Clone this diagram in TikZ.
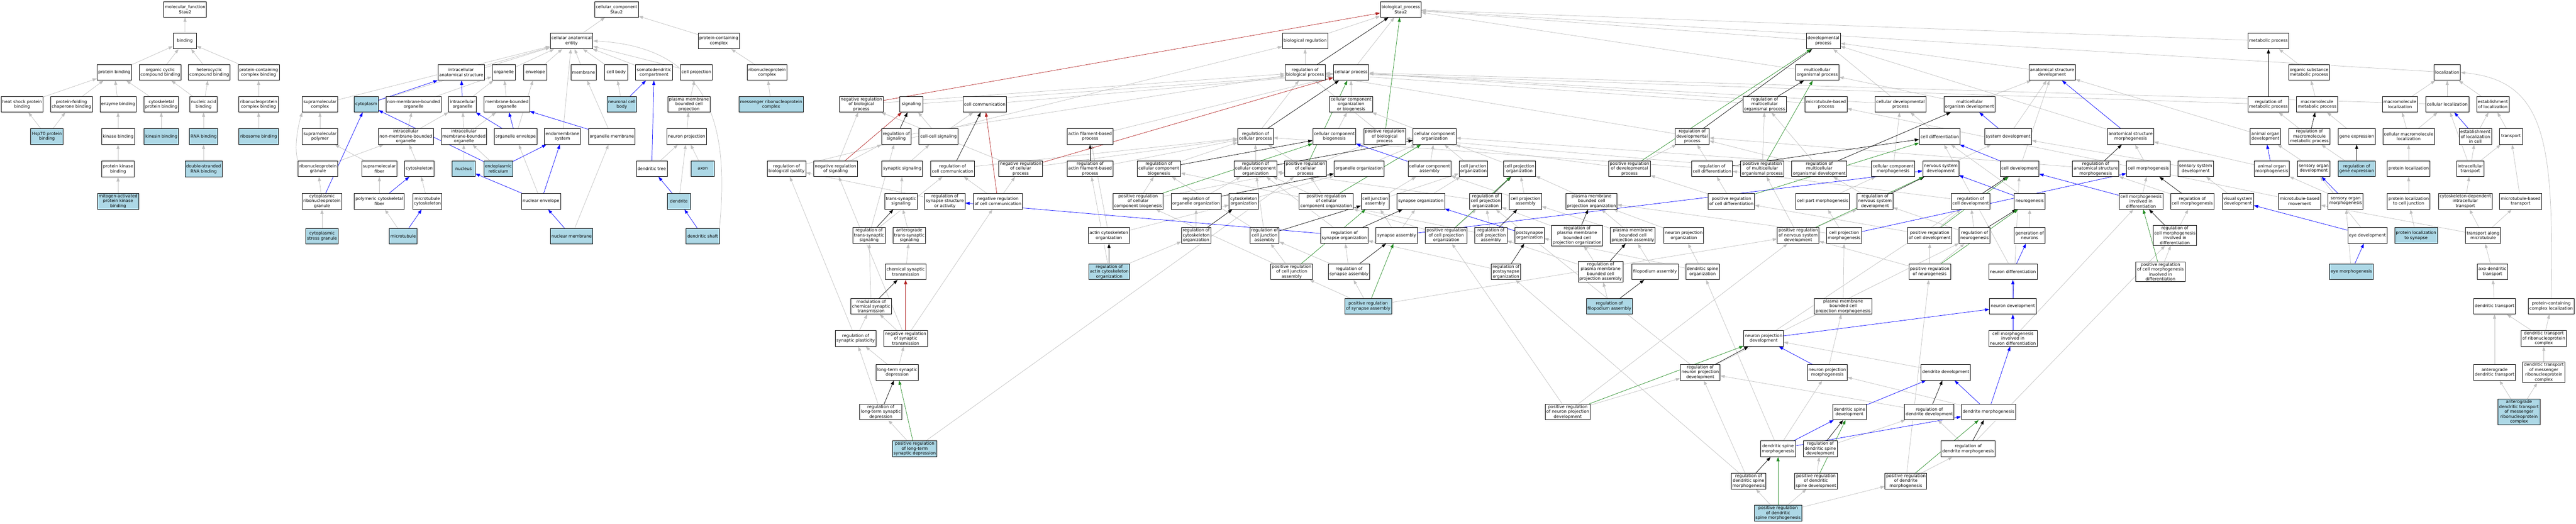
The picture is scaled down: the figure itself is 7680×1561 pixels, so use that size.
\documentclass[tikz,border=0pt]{standalone}
\usepackage{fontspec}
\setmainfont{DejaVu Sans}
\usetikzlibrary{arrows.meta}
\definecolor{lightblu}{HTML}{ADD8E6}
\definecolor{edgegray}{HTML}{C0C0C0}
\definecolor{fgreen}{HTML}{228B22}
\definecolor{fbrick}{HTML}{B22222}
\pgfdeclarelayer{back}
\pgfdeclarelayer{bg}
\pgfsetlayers{back,bg,main}
\tikzset{
  nd/.style={draw=black,line width=0.65pt,fill=white,align=center,
    font=\fontsize{6.3}{7.25}\selectfont,inner xsep=1.8pt,inner ysep=1.5pt,
    minimum width=35pt,minimum height=23.5pt},
  hl/.style={nd,fill=lightblu},
  edgebase/.style={line width=0.55pt,-{Triangle[length=6.5pt,width=4.6pt]}},
  isa/.style={edgebase,draw=edgegray},
  po/.style={edgebase,draw=blue},
  rg/.style={edgebase,draw=black},
  pr/.style={edgebase,draw=fgreen},
  nr/.style={edgebase,draw=fbrick}
}
\begin{document}
\begin{tikzpicture}[x=0.5pt,y=-0.5pt]
\begin{pgfonlayer}{back}
\fill[white] (0,0) rectangle (7680,1561);
\end{pgfonlayer}
\useasboundingbox (0,0) rectangle (7680,1561);
% ---------------- molecular function ----------------
\node[nd] (mf) at (552,28) {molecular\_function\\Stau2};
\node[nd] (bind) at (551,122) {binding};
\node[nd] (pbind) at (341,216) {protein binding};
\node[nd] (occb) at (478,216) {organic cyclic\\compound binding};
\node[nd] (hccb) at (624,216) {heterocyclic\\compound binding};
\node[nd] (pccb) at (771,216) {protein-containing\\complex binding};
\node[nd] (hspb) at (66,311) {heat shock protein\\binding};
\node[nd] (pfcb) at (213,311) {protein-folding\\chaperone binding};
\node[nd] (enzb) at (352,311) {enzyme binding};
\node[nd] (cypb) at (481,311) {cytoskeletal\\protein binding};
\node[nd] (nab) at (607,311) {nucleic acid\\binding};
\node[nd] (rnpcb) at (771,311) {ribonucleoprotein\\complex binding};
\node[hl] (hsp70) at (140,407) {Hsp70 protein\\binding};
\node[nd] (kinb) at (352,407) {kinase binding};
\node[hl] (kinesin) at (481,407) {kinesin binding};
\node[hl] (rnab) at (607,407) {RNA binding};
\node[hl] (ribb) at (771,407) {ribosome binding};
\node[nd] (pkb) at (352,504) {protein kinase\\binding};
\node[hl] (dsrna) at (607,504) {double-stranded\\RNA binding};
\node[hl] (mapk) at (352,600) {mitogen-activated\\protein kinase\\binding};
% ---------------- cellular component ----------------
\node[nd] (cc) at (1838,28) {cellular\_component\\Stau2};
\node[nd] (cae) at (1704,122) {cellular anatomical\\entity};
\node[nd] (pcc) at (2143,122) {protein-containing\\complex};
\node[nd] (ias) at (1375,216) {intracellular\\anatomical structure};
\node[nd] (org) at (1502,216) {organelle};
\node[nd] (env) at (1596,216) {envelope};
\node[nd] (mem) at (1740,216) {membrane};
\node[nd] (cbody) at (1837,216) {cell body};
\node[nd] (sdc) at (1950,216) {somatodendritic\\compartment};
\node[nd] (cproj) at (2076,216) {cell projection};
\node[nd] (rnpc) at (2287,216) {ribonucleoprotein\\complex};
\node[nd] (smc) at (954,311) {supramolecular\\complex};
\node[hl] (cyto) at (1092,311) {cytoplasm};
\node[nd] (nmbo) at (1233,311) {non-membrane-bounded\\organelle};
\node[nd] (io) at (1379,311) {intracellular\\organelle};
\node[nd] (mbo) at (1511,311) {membrane-bounded\\organelle};
\node[hl] (ncb) at (1854,311) {neuronal cell\\body};
\node[nd] (pmbcp) at (2054,311) {plasma membrane\\bounded cell\\projection};
\node[hl] (mrnp) at (2299,311) {messenger ribonucleoprotein\\complex};
\node[nd] (smp) at (954,407) {supramolecular\\polymer};
\node[nd] (inmbo) at (1210,407) {intracellular\\non-membrane-bounded\\organelle};
\node[nd] (imbo) at (1383,407) {intracellular\\membrane-bounded\\organelle};
\node[nd] (oenv) at (1537,407) {organelle envelope};
\node[nd] (endo) at (1677,407) {endomembrane\\system};
\node[nd] (omem) at (1824,407) {organelle membrane};
\node[nd] (nproj) at (2047,407) {neuron projection};
\node[nd] (rnpg) at (948,503) {ribonucleoprotein\\granule};
\node[nd] (smf) at (1131,503) {supramolecular\\fiber};
\node[nd] (cytsk) at (1250,503) {cytoskeleton};
\node[hl] (nucl) at (1382,503) {nucleus};
\node[hl] (er) at (1486,503) {endoplasmic\\reticulum};
\node[nd] (dtree) at (1943,503) {dendritic tree};
\node[hl] (axon) at (2095,503) {axon};
\node[nd] (crnpg) at (960,600) {cytoplasmic\\ribonucleoprotein\\granule};
\node[nd] (pcf) at (1131,600) {polymeric cytoskeletal\\fiber};
\node[nd] (mtcs) at (1274,600) {microtubule\\cytoskeleton};
\node[nd] (nenv) at (1613,600) {nuclear envelope};
\node[hl] (dend) at (2024,600) {dendrite};
\node[hl] (csg) at (960,704) {cytoplasmic\\stress granule};
\node[hl] (mt) at (1202,704) {microtubule};
\node[hl] (nmem) at (1704,704) {nuclear membrane};
\node[hl] (dshaft) at (2095,704) {dendritic shaft};
% ---------------- biological process ----------------
\node[nd] (bp) at (4176,28) {biological\_process\\Stau2};
\node[nd] (breg) at (3891,122) {biological regulation};
\node[nd] (devp) at (5436,122) {developmental\\process};
\node[nd] (metp) at (6763,122) {metabolic process};
\node[nd] (rbp) at (3891,216) {regulation of\\biological process};
\node[nd] (cellp) at (4028,216) {cellular process};
\node[nd] (mop) at (5418,216) {multicellular\\organismal process};
\node[nd] (asd) at (6118,216) {anatomical structure\\development};
\node[nd] (osmp) at (6884,216) {organic substance\\metabolic process};
\node[nd] (loc) at (7296,216) {localization};
% R3
\node[nd] (nrbp) at (2568,311) {negative regulation\\of biological\\process};
\node[nd] (sig) at (2717,311) {signaling};
\node[nd] (ccomm) at (2936,311) {cell communication};
\node[nd] (ccob) at (4028,311) {cellular component\\organization\\or biogenesis};
\node[nd] (rmop) at (5261,311) {regulation of\\multicellular\\organismal process};
\node[nd] (mtbp) at (5444,311) {microtubule-based\\process};
\node[nd] (cdp) at (5666,311) {cellular developmental\\process};
\node[nd] (mod) at (5872,311) {multicellular\\organism development};
\node[nd] (rmp) at (6763,311) {regulation of\\metabolic process};
\node[nd] (mmp) at (6908,311) {macromolecule\\metabolic process};
\node[nd] (mloc) at (7155,311) {macromolecule\\localization};
\node[nd] (cloc) at (7296,311) {cellular localization};
\node[nd] (eloc) at (7432,311) {establishment\\of localization};
% R4
\node[nd] (rsig) at (2672,407) {regulation of\\signaling};
\node[nd] (ccsig) at (2798,407) {cell-cell signaling};
\node[nd] (afbp) at (3250,407) {actin filament-based\\process};
\node[nd] (rcp) at (3743,407) {regulation of\\cellular process};
\node[nd] (ccb) at (3978,407) {cellular component\\biogenesis};
\node[nd] (prbp) at (4128,407) {positive regulation\\of biological\\process};
\node[nd] (cco) at (4277,407) {cellular component\\organization};
\node[nd] (rdp) at (5045,407) {regulation of\\developmental\\process};
\node[nd] (cdiff) at (5783,407) {cell differentiation};
\node[nd] (sysd) at (5987,407) {system development};
\node[nd] (asm) at (6352,407) {anatomical structure\\morphogenesis};
\node[nd] (aod) at (6754,407) {animal organ\\development};
\node[nd] (rmmp) at (6885,407) {regulation of\\macromolecule\\metabolic process};
\node[nd] (gexp) at (7026,407) {gene expression};
\node[nd] (cmloc) at (7181,407) {cellular macromolecule\\localization};
\node[nd] (elc) at (7380,407) {establishment\\of localization\\in cell};
\node[nd] (trans) at (7486,407) {transport};
% R5
\node[nd] (rbq) at (2345,503) {regulation of\\biological quality};
\node[nd] (nrsig) at (2491,503) {negative regulation\\of signaling};
\node[nd] (ssig) at (2690,503) {synaptic signaling};
\node[nd] (rcc) at (2840,503) {regulation of\\cell communication};
\node[nd] (nrcp) at (3043,503) {negative regulation\\of cellular\\process};
\node[nd] (rafbp) at (3250,503) {regulation of\\actin filament-based\\process};
\node[nd] (rccb) at (3455,503) {regulation of\\cellular component\\biogenesis};
\node[nd] (rcco) at (3743,503) {regulation of\\cellular component\\organization};
\node[nd] (prcp) at (3892,503) {positive regulation\\of cellular\\process};
\node[nd] (oo) at (4052,503) {organelle organization};
\node[nd] (cca) at (4262,503) {cellular component\\assembly};
\node[nd] (cjo) at (4393,503) {cell junction\\organization};
\node[nd] (cpo) at (4530,503) {cell projection\\organization};
\node[nd] (prdp) at (4858,503) {positive regulation\\of developmental\\process};
\node[nd] (rcd) at (5104,503) {regulation of\\cell differentiation};
\node[nd] (prmop) at (5254,503) {positive regulation\\of multicellular\\organismal process};
\node[nd] (rmod) at (5424,503) {regulation of\\multicellular\\organismal development};
\node[nd] (ccm) at (5644,503) {cellular component\\morphogenesis};
\node[nd] (nsd) at (5786,503) {nervous system\\development};
\node[nd] (cdev) at (6021,503) {cell development};
\node[nd] (rasm) at (6248,503) {regulation of\\anatomical structure\\morphogenesis};
\node[nd] (cmorph) at (6405,503) {cell morphogenesis};
\node[nd] (ssd) at (6546,503) {sensory system\\development};
\node[nd] (aom) at (6773,503) {animal organ\\morphogenesis};
\node[nd] (sod) at (6898,503) {sensory organ\\development};
\node[hl] (rge) at (7026,503) {regulation of\\gene expression};
\node[nd] (ploc) at (7181,503) {protein localization};
\node[nd] (itrans) at (7365,503) {intracellular\\transport};
% R6
\node[nd] (tsig) at (2686,600) {trans-synaptic\\signaling};
\node[nd] (rssa) at (2817,600) {regulation of\\synapse structure\\or activity};
\node[nd] (nrcc) at (2975,600) {negative regulation\\of cell communication};
\node[nd] (prccb) at (3393,600) {positive regulation\\of cellular\\component biogenesis};
\node[nd] (roo) at (3566,600) {regulation of\\organelle organization};
\node[nd] (cso) at (3708,600) {cytoskeleton\\organization};
\node[nd] (prcco) at (3954,600) {positive regulation\\of cellular\\component organization};
\node[nd] (cja) at (4100,600) {cell junction\\assembly};
\node[nd] (syno) at (4236,600) {synapse organization};
\node[nd] (rcpo) at (4429,600) {regulation of\\cell projection\\organization};
\node[nd] (cpa) at (4548,600) {cell projection\\assembly};
\node[nd] (pmbcpo) at (4745,600) {plasma membrane\\bounded cell\\projection organization};
\node[nd] (prcd) at (5162,600) {positive regulation\\of cell differentiation};
\node[nd] (cpm) at (5434,600) {cell part morphogenesis};
\node[nd] (rnsd) at (5590,600) {regulation of\\nervous system\\development};
\node[nd] (rcdev) at (5875,600) {regulation of\\cell development};
\node[nd] (neurog) at (6051,600) {neurogenesis};
\node[nd] (cmid) at (6383,600) {cell morphogenesis\\involved in\\differentiation};
\node[nd] (rcm) at (6536,600) {regulation of\\cell morphogenesis};
\node[nd] (vsd) at (6672,600) {visual system\\development};
\node[nd] (mtbm) at (6856,600) {microtubule-based\\movement};
\node[nd] (som) at (6993,600) {sensory organ\\morphogenesis};
\node[nd] (plcj) at (7181,600) {protein localization\\to cell junction};
\node[nd] (cdit) at (7350,600) {cytoskeleton-dependent\\intracellular\\transport};
\node[nd] (mtbt) at (7515,600) {microtubule-based\\transport};
% R7
\node[nd] (rtsig) at (2591,702) {regulation of\\trans-synaptic\\signaling};
\node[nd] (atsig) at (2711,702) {anterograde\\trans-synaptic\\signaling};
\node[nd] (aco) at (3306,702) {actin cytoskeleton\\organization};
\node[nd] (rcso) at (3566,702) {regulation of\\cytoskeleton\\organization};
\node[nd] (rcja) at (3770,702) {regulation of\\cell junction\\assembly};
\node[nd] (rso) at (4008,702) {regulation of\\synapse organization};
\node[nd] (sa) at (4164,702) {synapse assembly};
\node[nd] (prcpo) at (4312,702) {positive regulation\\of cell projection\\organization};
\node[nd] (rcpa) at (4445,702) {regulation of\\cell projection\\assembly};
\node[nd] (pso) at (4560,702) {postsynapse\\organization};
\node[nd] (rpmbcpo) at (4702,702) {regulation of\\plasma membrane\\bounded cell\\projection organization};
\node[nd] (pmbcpa) at (4868,702) {plasma membrane\\bounded cell\\projection assembly};
\node[nd] (npo) at (5020,702) {neuron projection\\organization};
\node[nd] (prnsd) at (5361,702) {positive regulation\\of nervous system\\development};
\node[nd] (cpmorph) at (5498,702) {cell projection\\morphogenesis};
\node[nd] (prcdev) at (5753,702) {positive regulation\\of cell development};
\node[nd] (rneurog) at (5887,702) {regulation of\\neurogenesis};
\node[nd] (gon) at (6051,702) {generation of\\neurons};
\node[nd] (rcmid) at (6484,702) {regulation of\\cell morphogenesis\\involved in\\differentiation};
\node[nd] (eyed) at (7058,702) {eye development};
\node[hl] (pls) at (7203,702) {protein localization\\to synapse};
\node[nd] (tam) at (7403,702) {transport along\\microtubule};
% R8
\node[nd] (cst) at (2700,810) {chemical synaptic\\transmission};
\node[hl] (raco) at (3307,810) {regulation of\\actin cytoskeleton\\organization};
\node[nd] (prcja) at (3851,810) {positive regulation\\of cell junction\\assembly};
\node[nd] (rsa) at (4022,810) {regulation of\\synapse assembly};
\node[nd] (rpso) at (4490,810) {regulation of\\postsynapse\\organization};
\node[nd] (rpmbcpa) at (4772,810) {regulation of\\plasma membrane\\bounded cell\\projection assembly};
\node[nd] (fa) at (4934,810) {filopodium assembly};
\node[nd] (dso) at (5076,810) {dendritic spine\\organization};
\node[nd] (prneurog) at (5753,810) {positive regulation\\of neurogenesis};
\node[nd] (ndiff) at (6001,810) {neuron differentiation};
\node[nd] (prcmid) at (6441,810) {positive regulation\\of cell morphogenesis\\involved in\\differentiation};
\node[hl] (eyem) at (7010,810) {eye morphogenesis};
\node[nd] (adt) at (7431,810) {axo-dendritic\\transport};
% R9
\node[nd] (mcst) at (2597,913) {modulation of\\chemical synaptic\\transmission};
\node[hl] (prsa) at (4079,913) {positive regulation\\of synapse assembly};
\node[hl] (rfa) at (4798,913) {regulation of\\filopodium assembly};
\node[nd] (pmbcpm) at (5495,913) {plasma membrane\\bounded cell\\projection morphogenesis};
\node[nd] (ndev) at (6001,913) {neuron development};
\node[nd] (dtr) at (7437,913) {dendritic transport};
\node[nd] (pccl) at (7606,913) {protein-containing\\complex localization};
% R10
\node[nd] (rsp) at (2551,1009) {regulation of\\synaptic plasticity};
\node[nd] (nrst) at (2700,1009) {negative regulation\\of synaptic\\transmission};
\node[nd] (npd) at (5258,1009) {neuron projection\\development};
\node[nd] (cmind) at (6001,1009) {cell morphogenesis\\involved in\\neuron differentiation};
\node[nd] (dtrnp) at (7584,1009) {dendritic transport\\of ribonucleoprotein\\complex};
% R11
\node[nd] (ltsd) at (2675,1110) {long-term synaptic\\depression};
\node[nd] (rnpd) at (5069,1110) {regulation of\\neuron projection\\development};
\node[nd] (npm) at (5448,1110) {neuron projection\\morphogenesis};
\node[nd] (ddev) at (5801,1110) {dendrite development};
\node[nd] (adtr) at (7437,1110) {anterograde\\dendritic transport};
\node[nd] (dtmrnp) at (7584,1110) {dendritic transport\\of messenger\\ribonucleoprotein\\complex};
% R12
\node[nd] (rltsd) at (2626,1228) {regulation of\\long-term synaptic\\depression};
\node[nd] (prnpd) at (4674,1228) {positive regulation\\of neuron projection\\development};
\node[nd] (dsd) at (5514,1228) {dendritic spine\\development};
\node[nd] (rdd) at (5752,1228) {regulation of\\dendrite development};
\node[nd] (dm) at (5928,1228) {dendrite morphogenesis};
\node[hl] (admrnp) at (7510,1228) {anterograde\\dendritic transport\\of messenger\\ribonucleoprotein\\complex};
% R13
\node[hl] (prltsd) at (2727,1338) {positive regulation\\of long-term\\synaptic depression};
\node[nd] (dsm) at (5301,1338) {dendritic spine\\morphogenesis};
\node[nd] (rdsd) at (5427,1338) {regulation of\\dendritic spine\\development};
\node[nd] (rdm) at (5868,1338) {regulation of\\dendrite morphogenesis};
% R14
\node[nd] (rdsm) at (5213,1434) {regulation of\\dendritic spine\\morphogenesis};
\node[nd] (prdsd) at (5414,1434) {positive regulation\\of dendritic\\spine development};
\node[nd] (prdm) at (5682,1434) {positive regulation\\of dendrite\\morphogenesis};
% R15
\node[hl] (prdsm) at (5301,1530) {positive regulation\\of dendritic\\spine morphogenesis};

\begin{pgfonlayer}{bg}
% is_a (grey)
\foreach \a/\b in {bind/mf,pbind/bind,occb/bind,hccb/bind,pccb/bind,hspb/pbind,pfcb/pbind,enzb/pbind,cypb/pbind,
  nab/occb,nab/hccb,rnpcb/pccb,hsp70/hspb,hsp70/pfcb,kinb/enzb,kinesin/cypb,rnab/nab,ribb/rnpcb,pkb/kinb,dsrna/rnab,mapk/pkb,
  cae/cc,pcc/cc,rnpc/pcc,mrnp/rnpc,ias/cae,org/cae,env/cae,mem/cae,cbody/cae,sdc/cae,cproj/cae,smc/cae,cyto/cae,
  nmbo/org,io/org,mbo/org,smp/smc,inmbo/nmbo,inmbo/io,imbo/io,imbo/mbo,rnpg/inmbo,smf/smp,cytsk/inmbo,
  crnpg/rnpg,pcf/smf,mtcs/cytsk,csg/crnpg,mt/pcf,oenv/env,omem/mem,endo/cae,nucl/imbo,er/imbo,nenv/oenv,nmem/omem,
  ncb/cbody,pmbcp/cproj,nproj/pmbcp,dtree/nproj,axon/nproj,dend/nproj,
  breg/bp,cellp/bp,devp/bp,mop/bp,metp/bp,loc/bp,sig/cellp,ccomm/cellp,rbq/breg,nrbp/rbp,rbp/breg,prbp/rbp,
  ccob/cellp,rcp/rbp,ccb/ccob,cco/ccob,rsig/rbp,ccsig/sig,ccsig/ccomm,afbp/cellp,nrsig/rsig,nrsig/nrbp,ssig/ccsig,
  rcc/rcp,nrcp/rcp,nrcp/nrbp,rafbp/rcp,rccb/rcp,tsig/ssig,rssa/rbq,nrcc/rcc,nrcc/nrcp,prccb/rccb,prccb/prcp,
  roo/rcco,rtsig/rsig,rtsig/rcc,atsig/tsig,aco/afbp,aco/cso,rcso/roo,cst/atsig,raco/rcso,raco/rafbp,mcst/rtsig,
  rsp/mcst,rsp/rbq,nrst/mcst,nrst/nrsig,nrst/nrcc,ltsd/rsp,ltsd/nrst,rltsd/rsp,prltsd/rltsd,prltsd/prcp,
  cca/cco,oo/cco,cjo/cco,cpo/cco,prdp/rdp,prdp/prbp,rcco/rcp,prcp/rcp,prcp/prbp,cso/oo,prcco/rcco,prcco/prcp,
  cja/cjo,cja/cca,syno/cjo,rcpo/rcco,cpa/cpo,cpa/cca,pmbcpo/cpo,rcja/rcco,rcja/rccb,rso/rcco,sa/syno,sa/cja,
  prcpo/rcpo,prcpo/prcco,rcpa/rcpo,rcpa/rccb,rpmbcpo/rcpo,pmbcpa/cpa,pmbcpa/pmbcpo,prcja/rcja,prcja/prccb,
  rsa/rso,rsa/rcja,rpso/rso,rpmbcpa/rcpa,rpmbcpa/rpmbcpo,fa/pmbcpa,prsa/prcja,prsa/rsa,prsa/prnsd,rfa/rpmbcpa,
  prnpd/rnpd,prnpd/prcpo,prnpd/prnsd,
  asd/devp,rmop/rbp,mtbp/cellp,cdp/devp,cdp/cellp,mod/asd,mod/mop,rdp/rbp,cdiff/cdp,sysd/asd,asm/devp,
  rcd/rdp,rcd/rcp,prmop/rmop,prmop/prbp,rmod/rmop,rmod/rdp,ccm/cdp,ccm/cco,nsd/sysd,cdev/asd,rasm/rdp,
  prcd/rcd,prcd/prdp,cpm/ccm,rnsd/rmod,rcdev/rcd,neurog/cdiff,npo/pmbcpo,prnsd/rnsd,prnsd/prmop,cpmorph/cpm,
  cpmorph/pmbcpo,prcdev/rcdev,prcdev/prcd,rneurog/rnsd,rneurog/rcdev,gon/neurog,dso/npo,dso/pso,
  prneurog/rneurog,prneurog/prnsd,prneurog/prcdev,ndiff/cdiff,pmbcpm/cpmorph,ndev/cdev,npd/cdev,cmind/cmid,
  rnpd/rcpo,rnpd/rneurog,npm/pmbcpm,ddev/npd,rdd/rnpd,dm/npm,dsm/npm,dsm/dso,rdsd/rdd,rdm/rdd,rdm/rcmid,
  rdsm/rnpd,rdsm/rpso,prdsd/rdsd,prdm/rdm,prdm/prneurog,prdsm/rdsm,prdsm/prdsd,prdsm/prdm,
  rmp/rbp,osmp/metp,mmp/osmp,mloc/loc,cloc/loc,eloc/loc,cloc/cellp,aod/asd,rmmp/rmp,gexp/mmp,cmloc/mloc,cmloc/cloc,
  elc/eloc,trans/eloc,cmorph/asm,ssd/sysd,aom/asm,sod/aod,rge/rmmp,ploc/cmloc,itrans/elc,itrans/trans,itrans/cloc,
  cmid/cmorph,rcm/rasm,vsd/ssd,mtbm/mtbp,som/aom,plcj/ploc,cdit/itrans,mtbt/trans,rcmid/rcm,eyed/sod,pls/plcj,
  tam/cdit,tam/mtbt,tam/mtbm,prcmid/rcmid,eyem/som,adt/tam,dtr/adt,dtrnp/dtr,dtrnp/pccl,adtr/dtr,
  dtmrnp/dtrnp,admrnp/adtr,admrnp/dtmrnp}
  \draw[isa] (\a) -- (\b);
% curved grey edges
\draw[isa] (pccl.north) .. controls (7614,420) and (7590,240) .. (loc.east);
\draw[isa] (dshaft.north east) .. controls (2175,380) and (2120,140) .. (cae.east);
\draw[isa] (rnpg.north west) .. controls (875,440) and (890,370) .. (smc.south west);
% part_of (blue)
\foreach \a/\b in {cyto/ias,io/ias,crnpg/cyto,pcf/cytsk,mt/mtcs,oenv/io,oenv/mbo,omem/mbo,er/endo,er/cyto,
  nenv/endo,nenv/nucl,nmem/nenv,ncb/sdc,dtree/sdc,dend/dtree,dshaft/dend,
  cca/ccb,rso/rssa,sa/nsd,pso/syno,sysd/mod,asm/asd,cdev/cdiff,neurog/nsd,cpmorph/cmorph,ndiff/gon,ndev/ndiff,
  npd/ndev,cmind/ndev,npm/npd,dsd/ddev,dm/ddev,dm/cmind,dsm/dsd,dsm/dm,elc/cloc,aom/aod,som/sod,cmid/cdev,
  eyed/vsd,eyem/eyed}
  \draw[po] (\a) -- (\b);
% regulates (black)
\foreach \a/\b in {rbp/bp,rcp/cellp,rsig/sig,rcc/ccomm,rafbp/afbp,rccb/ccb,roo/oo,rtsig/tsig,rcso/cso,raco/aco,
  mcst/cst,rltsd/ltsd,rcco/cco,rcpo/cpo,rcja/cja,rso/syno,rcpa/cpa,rpmbcpo/pmbcpo,rsa/sa,rpso/pso,rpmbcpa/pmbcpa,
  rfa/fa,rmop/mop,rdp/devp,rcd/cdiff,rmod/mod,rasm/asm,rnsd/nsd,rcdev/cdev,rneurog/neurog,rnpd/npd,rdd/ddev,
  rdsd/dsd,rdm/dm,rdsm/dsm,rmp/metp,rmmp/mmp,rge/gexp,rcm/cmorph,rcmid/cmid}
  \draw[rg] (\a) -- (\b);
% positively regulates (green)
\foreach \a/\b in {prbp/bp,prcp/cellp,prccb/ccb,prcco/cco,prcpo/cpo,prcja/cja,prsa/sa,prdp/devp,prltsd/ltsd,
  prmop/mop,prcd/cdiff,prnsd/nsd,prcdev/cdev,prneurog/neurog,prnpd/npd,prdsd/dsd,prdm/dm,prdsm/dsm,prcmid/cmid}
  \draw[pr] (\a) -- (\b);
% negatively regulates (red)
\foreach \a/\b in {nrbp/bp,nrsig/sig,nrcp/cellp,nrcc/ccomm,nrst/cst}
  \draw[nr] (\a) -- (\b);
\end{pgfonlayer}
\end{tikzpicture}
\end{document}
